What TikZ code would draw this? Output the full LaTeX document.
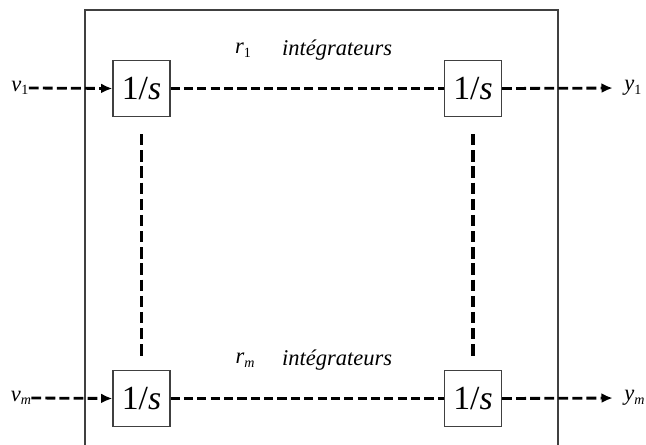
\documentclass[tikz,border=0pt]{standalone}
\usepackage{fontspec}
\setmainfont{Liberation Serif}
\usetikzlibrary{arrows.meta}
\newcommand{\lowidx}[1]{\raisebox{-0.35ex}{\fontsize{10}{10}\selectfont #1}}

\begin{document}
\begin{tikzpicture}[x=0.025cm,y=-0.025cm,
  integ/.style={draw=black!75,line width=1pt,minimum width=1.42cm,minimum height=1.4cm,inner sep=0pt,font=\fontsize{24}{26}\selectfont},
  lab/.style={inner sep=0pt,font=\fontsize{16}{18}\selectfont\itshape},
  sig/.style={line width=2pt,dash pattern=on 7pt off 3pt,-{Latex[length=8pt,width=7pt]}},
  chain/.style={line width=2pt,dash pattern=on 6.5pt off 3pt},
  column/.style={line width=2.4pt,dash pattern=on 8pt off 3.5pt,shorten <=12pt,shorten >=9pt}]
\useasboundingbox (0,0) rectangle (646,445);
\draw[black!75,line width=1pt] (85,445) -- (85,10) -- (558,10) -- (558,445);
% integrators
\node[integ] (b11) at (141.5,88.5) {1/\textit{s}};
\node[integ] (b1r) at (473,88.5) {1/\textit{s}};
\node[integ] (bm1) at (141.5,398.5) {1/\textit{s}};
\node[integ] (bmr) at (473,398.5) {1/\textit{s}};
% texts
\node[lab] (r1) at (243,50) {r\lowidx{\upshape 1}};
\node[lab] (int1) at (337,50) {intégrateurs};
\node[lab] (rm) at (245,360) {r\lowidx{m}};
\node[lab] (intm) at (337,360) {intégrateurs};
\node[lab] (v1) at (20,88) {v\lowidx{\upshape 1}};
\node[lab] (vm) at (21,398) {v\lowidx{m}};
\node[lab,anchor=west] (y1) at (624,88) {y\lowidx{\upshape 1}};
\node[lab,anchor=west] (ym) at (624,398) {y\lowidx{m}};
% links
\draw[sig] (v1.east) -- (b11.west);
\draw[sig] (vm.east) -- (bm1.west);
\draw[sig,shorten >=8pt] (b1r.east) -- (y1.west);
\draw[sig,shorten >=8pt] (bmr.east) -- (ym.west);
\draw[chain] (b11.east) -- (b1r.west);
\draw[chain] (bm1.east) -- (bmr.west);
\draw[column] (b11.south) -- (bm1.north);
\draw[column] (b1r.south) -- (bmr.north);
\end{tikzpicture}
\end{document}
